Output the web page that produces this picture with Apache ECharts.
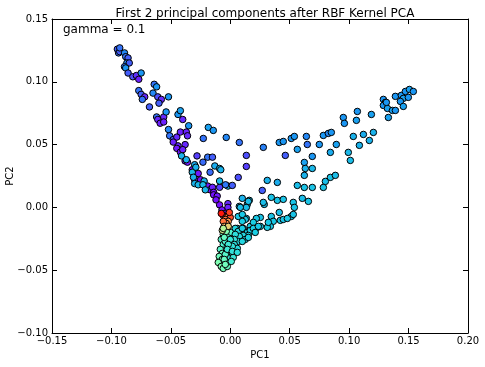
<!DOCTYPE html>
<html><head><meta charset="utf-8">
<script src="https://cdn.jsdelivr.net/npm/echarts@6/dist/echarts.min.js"></script>
<style>html,body{margin:0;padding:0;background:#fff}#c{width:485px;height:367px}</style>
</head><body><div id="c"></div>
<script>
// each point: [PC1, PC2, colour value 0..1 (rainbow)]
const leftArm = [
[-0.095,0.126,0.12],[-0.094,0.123,0.15],[-0.093,0.124,0.12],[-0.093,0.127,0.15],[-0.089,0.123,0.18],
[-0.088,0.120,0.15],[-0.086,0.119,0.12],[-0.087,0.115,0.18],[-0.085,0.115,0.12],[-0.089,0.112,0.15],
[-0.088,0.111,0.2],[-0.086,0.107,0.12],[-0.082,0.104,0.1],[-0.079,0.105,0.06],[-0.077,0.102,0.04],
[-0.075,0.107,0.2],[-0.077,0.093,0.15],[-0.075,0.090,0.12],[-0.072,0.088,0.05],[-0.074,0.086,0.15],
[-0.064,0.098,0.15],[-0.062,0.096,0.2],[-0.065,0.091,0.18],[-0.061,0.088,0.1],[-0.058,0.086,0.05],
[-0.060,0.083,0.12],[-0.052,0.088,0.2],[-0.068,0.080,0.12],[-0.062,0.072,0.15],[-0.061,0.070,0.05],
[-0.059,0.067,0.04],[-0.056,0.072,0.05],[-0.054,0.076,0.2],[-0.056,0.068,0.04],[-0.044,0.074,0.2],
[-0.042,0.077,0.22],[-0.040,0.070,0.05],[-0.035,0.065,0.2],[-0.052,0.062,0.18],[-0.051,0.057,0.15],
[-0.048,0.054,0.12],[-0.045,0.056,0.05],[-0.042,0.060,0.04],[-0.037,0.060,0.04],[-0.036,0.057,0.05],
[-0.038,0.050,0.05],[-0.044,0.049,0.05],[-0.0185,0.0637,0.22],[-0.0143,0.0613,0.2],[-0.0227,0.0549,0.15],
[-0.0034,0.0557,0.18]
];
const centerTrail = [
[-0.048,0.052,0.04],[-0.045,0.047,0.03],[-0.042,0.044,0.03],[-0.040,0.046,0.04],[-0.038,0.037,0.03],
[-0.036,0.036,0.03],[-0.032,0.030,0.03],[-0.030,0.022,0.02],[-0.027,0.027,0.03],[-0.025,0.022,0.02],
[-0.019,0.017,0.03],[-0.017,0.014,0.02],[-0.015,0.016,0.04],[-0.014,0.012,0.02],[-0.014,0.010,0.02],
[-0.011,0.009,0.03],[-0.012,0.006,0.02],[-0.009,0.002,0.02],[-0.007,-0.002,0.02],[-0.002,0.003,0.05],
[-0.002,0.000,0.04],[-0.005,-0.005,0.03],[-0.009,0.016,0.08],[-0.028,0.041,0.08],
[-0.041,0.041,0.25],[-0.037,0.038,0.25],[-0.032,0.028,0.26],[-0.031,0.024,0.25],[-0.030,0.019,0.25],
[-0.027,0.018,0.26],[-0.022,0.021,0.25],[-0.023,0.018,0.27],[-0.021,0.014,0.26],[-0.009,0.021,0.26],
[-0.002,0.017,0.27],[-0.013,0.033,0.24],[-0.009,0.031,0.26],[-0.008,0.030,0.25],[-0.030,0.034,0.24],
[-0.029,0.032,0.25],
[-0.023,0.036,0.14],[-0.019,0.040,0.15],[-0.015,0.040,0.12],[-0.017,0.028,0.14],[-0.004,0.018,0.16]
];
const rightUpper = [
[0.0076,0.0517,0.15],[0.0278,0.0478,0.17],[0.0135,0.0414,0.1],[0.0135,0.0326,0.08],[0.0463,0.0414,0.12],
[0.0412,0.0517,0.2],[0.0446,0.0525,0.2],[0.0513,0.0549,0.2],[0.0539,0.0565,0.2],[0.0564,0.0462,0.22],
[0.064,0.0565,0.18],[0.0648,0.0501,0.15],[0.0749,0.0501,0.2],[0.0783,0.0573,0.2],[0.0825,0.0589,0.18],
[0.085,0.0597,0.2],[0.0892,0.0501,0.22],[0.0842,0.0438,0.24],[0.0951,0.0716,0.2],[0.096,0.0669,0.2],
[0.1069,0.0764,0.2],[0.1061,0.0693,0.22],[0.1187,0.074,0.22],[0.133,0.0716,0.22],[0.1288,0.086,0.2],
[0.1305,0.0836,0.2],[0.1288,0.0812,0.2],[0.1322,0.0788,0.22],[0.1313,0.0836,0.2],[0.1364,0.0772,0.22],
[0.1389,0.0772,0.2],[0.1389,0.0884,0.2],[0.1439,0.0892,0.2],[0.1473,0.0923,0.2],[0.1507,0.0939,0.22],
[0.154,0.0923,0.2],[0.1456,0.0868,0.22],[0.1498,0.0876,0.2],[0.1431,0.0844,0.2],[0.1456,0.0804,0.22],
[0.1204,0.0597,0.25],[0.112,0.0581,0.24],[0.1035,0.0565,0.25],[0.117,0.0533,0.25],[0.1086,0.0494,0.25],
[0.0993,0.0438,0.26],[0.101,0.0374,0.27],[0.0623,0.0358,0.22],[0.069,0.0406,0.2],[0.0631,0.031,0.25],
[0.069,0.031,0.26],[0.0623,0.0255,0.25],[0.0067,0.0239,0.1],[0.0017,0.0175,0.12],[0.0269,0.0135,0.12]
];
const rightLower = [
[0.0311,0.0215,0.25],[0.0396,0.0199,0.24],[0.0345,0.008,0.28],[0.0396,0.0056,0.28],[0.0446,0.0064,0.28],
[0.053,0.004,0.28],[0.0539,0.0,0.28],[0.0606,0.0072,0.27],[0.0657,0.0048,0.28],[0.0286,0.0024,0.27],
[0.0101,0.0072,0.25],[0.016,0.0056,0.27],[0.0143,0.0024,0.28],[0.0135,0.0,0.27],[0.0076,0.0008,0.26],
[0.0564,0.0175,0.27],[0.0623,0.0159,0.28],[0.069,0.0159,0.28],[0.0783,0.0159,0.28],[0.08,0.0207,0.27],
[0.0842,0.0239,0.28],[0.0884,0.0255,0.27],[0.0253,-0.008,0.28],[0.0219,-0.0088,0.29],[0.0135,-0.0088,0.28],
[0.0345,-0.0072,0.28],[0.0412,-0.004,0.27],[0.0362,-0.0111,0.29],[0.0421,-0.0103,0.29],[0.0446,-0.0096,0.28],
[0.0513,-0.0072,0.28],[0.053,-0.0056,0.28],[0.048,-0.0088,0.29],[0.0337,-0.0151,0.29],[0.0311,-0.0159,0.3],
[0.0227,-0.0159,0.3],[0.0168,-0.0151,0.3],[0.0109,-0.0167,0.3],[0.0059,-0.0167,0.3],[0.0084,0.0,0.27],
[0.0152,0.0048,0.27],[0.0278,0.004,0.27],[0.032,-0.0119,0.29],[0.0253,-0.0151,0.3],[0.0126,-0.0096,0.29],
[0.0101,-0.0111,0.3],[0.0194,-0.0119,0.3],[0.0067,-0.0072,0.29],[0.0101,-0.0056,0.29]
];
const spike = [
[-0.0059,-0.0215,0.45],[-0.0076,-0.0255,0.42],[-0.0059,-0.0295,0.4],[-0.0084,-0.0334,0.42],[-0.0067,-0.0366,0.45],
[-0.0093,-0.039,0.47],[-0.0067,-0.0414,0.48],[-0.0101,-0.0438,0.5],[-0.0076,-0.047,0.5],[-0.0059,-0.0486,0.48],
[-0.0025,-0.047,0.45],[-0.0034,-0.0438,0.42],[-0.0017,-0.043,0.4],[-0.0025,-0.0398,0.38],[-0.0017,-0.0374,0.37],
[0.0,-0.0398,0.36],[0.0017,-0.0366,0.35],[0.0025,-0.0398,0.36],[0.0008,-0.043,0.38],[0.0034,-0.0334,0.34],
[-0.0025,-0.031,0.38],[-0.0042,-0.0271,0.4],[-0.0017,-0.0231,0.42],[0.0008,-0.0199,0.4],[-0.0034,-0.0191,0.5],
[-0.0051,-0.0239,0.45],[0.0,-0.0287,0.38],[-0.0008,-0.0334,0.38],[-0.0042,-0.0374,0.42],[-0.0051,-0.0414,0.45],
[-0.0042,-0.0454,0.47],
[0.0042,-0.0167,0.32],[0.0067,-0.0191,0.32],[0.0101,-0.0167,0.3],[0.0143,-0.0199,0.3],[0.0168,-0.0183,0.3],
[0.0194,-0.0167,0.3],[0.0236,-0.0151,0.29],[0.021,-0.0199,0.3],[0.0152,-0.0223,0.31],[0.0109,-0.0223,0.32],
[0.0076,-0.0231,0.33],[0.0042,-0.0215,0.34],[0.0067,-0.0271,0.33],[0.0034,-0.0255,0.35],[0.0,-0.0255,0.36],
[0.0126,-0.0255,0.31],[0.0101,-0.0271,0.32],[0.0152,-0.0239,0.31],[0.0034,-0.0295,0.34],[0.0059,-0.0326,0.33],
[0.0017,-0.031,0.35],[-0.0017,-0.0295,0.37],[-0.0025,-0.0334,0.37],[0.0017,-0.035,0.35],[0.0059,-0.0358,0.34]
];
const core = [
[-0.0059,-0.0064,0.9],[-0.0034,-0.0072,0.95],[-0.0017,-0.0064,0.85],[0.0,-0.008,0.9],[-0.0042,-0.0096,0.85],
[-0.0017,-0.0111,0.8],[-0.0034,-0.0127,0.82],[-0.0059,-0.0111,0.85],[-0.0051,-0.0151,0.75],[-0.0017,-0.0151,0.7],
[-0.0067,-0.0183,0.65],[-0.0059,-0.0167,0.6],[-0.0008,-0.004,0.92],[-0.0076,-0.0048,0.97]
];
const xTicks = {min:-0.15, max:0.20, step:0.05};
const yTicks = {min:-0.10, max:0.15, step:0.05};
const titleText = 'First 2 principal components after RBF Kernel PCA';
const noteText = 'gamma = 0.1';
const xName = 'PC1', yName = 'PC2';

const rainbow = ['#8000ff','#4d4ffc','#1a96f3','#1acee3','#4df3ce','#80ffb4','#b3f396','#e6ce74','#ff964f','#ff4f28','#ff0000'];
const fmt = v => { const s = v.toFixed(2); return s.replace('-', '\u2212'); };
const F = 'DejaVu Sans';
const axisCommon = {
  axisLine:{show:true,onZero:false,lineStyle:{color:'#000',width:1}},
  axisTick:{show:true,inside:true,length:5,lineStyle:{color:'#000'}},
  splitLine:{show:false},
};
const chart = echarts.init(document.getElementById('c'));
chart.setOption({
  animation:false,
  backgroundColor:'#fff',
  title:{text:titleText,left:260,top:3,textAlign:'center',textStyle:{fontFamily:F,fontSize:12,fontWeight:'normal',color:'#000'}},
  grid:{left:52,right:17,top:19,bottom:34,containLabel:false,outerBoundsMode:'none'},
  graphic:[
    {type:'text',left:63,top:24,style:{text:noteText,font:'12px "DejaVu Sans"',fill:'#000'}},
    {type:'text',x:10,y:176,rotation:Math.PI/2,style:{text:yName,font:'10px "DejaVu Sans"',fill:'#000',align:'center',verticalAlign:'middle'}}
  ],
  visualMap:{show:false,type:'continuous',min:0,max:1,dimension:2,inRange:{color:rainbow}},
  xAxis:[
    Object.assign({type:'value',position:'bottom',min:xTicks.min,max:xTicks.max,interval:xTicks.step,
      name:xName,nameLocation:'middle',nameGap:16,nameTextStyle:{fontFamily:F,fontSize:10,color:'#000'},
      axisLabel:{formatter:fmt,fontFamily:F,fontSize:10,color:'#000',margin:3}},axisCommon),
    Object.assign({type:'value',position:'top',min:xTicks.min,max:xTicks.max,interval:xTicks.step,axisLabel:{show:false}},axisCommon)
  ],
  yAxis:[
    Object.assign({type:'value',position:'left',min:yTicks.min,max:yTicks.max,interval:yTicks.step,
      axisLabel:{formatter:fmt,fontFamily:F,fontSize:10,color:'#000',margin:4}},axisCommon),
    Object.assign({type:'value',position:'right',min:yTicks.min,max:yTicks.max,interval:yTicks.step,axisLabel:{show:false}},axisCommon)
  ],
  series:[{
    type:'scatter',symbol:'circle',symbolSize:6.5,
    itemStyle:{borderColor:'#000',borderWidth:1,opacity:1},
    data:[].concat(leftArm,centerTrail,rightUpper,rightLower,spike,core)
  }]
});
</script></body></html>
